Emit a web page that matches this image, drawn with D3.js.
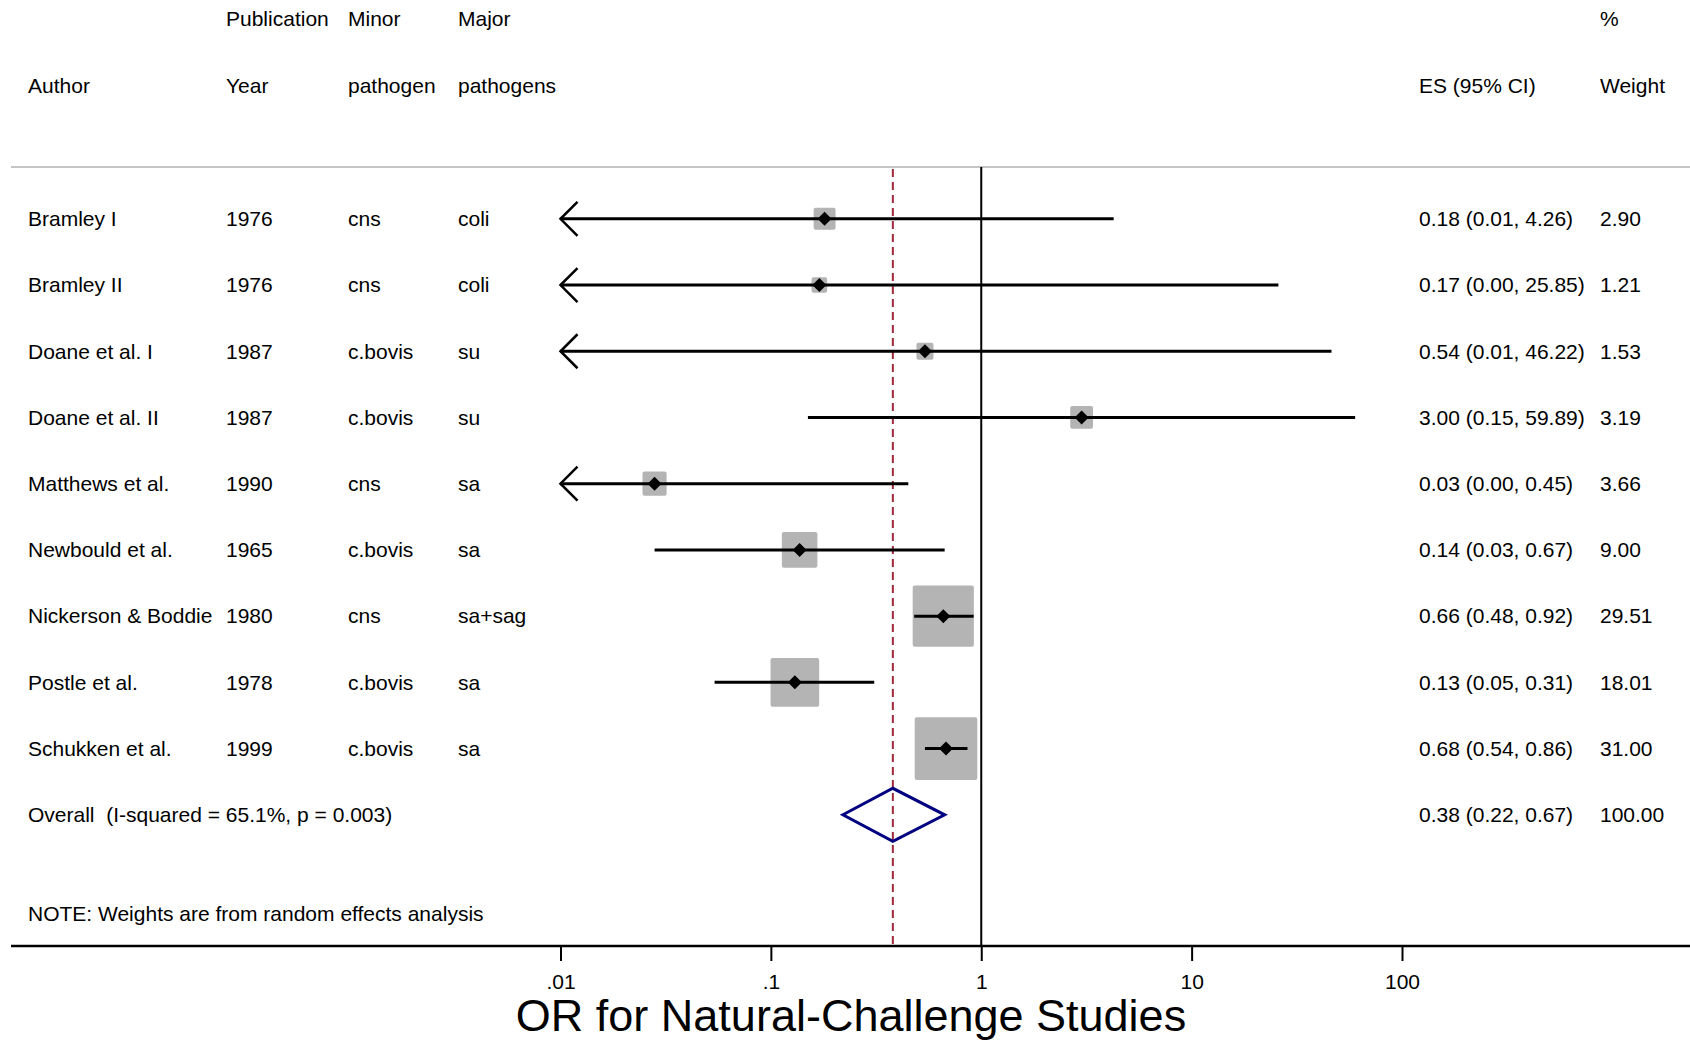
<!DOCTYPE html>
<html>
<head>
<meta charset="utf-8">
<script src="https://cdn.jsdelivr.net/npm/d3@7"></script>
<style>
  body { margin: 0; background: #fff; }
  text { font-family: "Liberation Sans", Arial, sans-serif; font-size: 21px; fill: #000; white-space: pre; }
</style>
</head>
<body>
<div id="chart"></div>
<script>
// study table
const AUTHORS = ["Bramley I", "Bramley II", "Doane et al. I", "Doane et al. II", "Matthews et al.",
  "Newbould et al.", "Nickerson & Boddie", "Postle et al.", "Schukken et al."];
const YEARS = ["1976", "1976", "1987", "1987", "1990", "1965", "1980", "1978", "1999"];
const MINOR = ["cns", "cns", "c.bovis", "c.bovis", "cns", "c.bovis", "cns", "c.bovis", "c.bovis"];
const MAJOR = ["coli", "coli", "su", "su", "sa", "sa", "sa+sag", "sa", "sa"];
const ES = [0.18, 0.17, 0.54, 3.00, 0.028, 0.137, 0.66, 0.13, 0.68];
const LO = [0.01, 0.00, 0.01, 0.15, 0.00, 0.028, 0.48, 0.054, 0.54];
const HI = [4.26, 25.85, 46.22, 59.89, 0.45, 0.67, 0.92, 0.31, 0.86];
const ES_LABELS = ["0.18 (0.01, 4.26)", "0.17 (0.00, 25.85)", "0.54 (0.01, 46.22)", "3.00 (0.15, 59.89)",
  "0.03 (0.00, 0.45)", "0.14 (0.03, 0.67)", "0.66 (0.48, 0.92)", "0.13 (0.05, 0.31)", "0.68 (0.54, 0.86)"];
const WEIGHTS = [2.90, 1.21, 1.53, 3.19, 3.66, 9.00, 29.51, 18.01, 31.00];

const OVERALL = { es: 0.38, lo: 0.22, hi: 0.67, label: "0.38 (0.22, 0.67)", weight: "100.00",
  text: "Overall  (I-squared = 65.1%, p = 0.003)" };
const NOTE = "NOTE: Weights are from random effects analysis";
const TICKS = [0.01, 0.1, 1, 10, 100];
const TICK_LABELS = [".01", ".1", "1", "10", "100"];
const X_TITLE = "OR for Natural-Challenge Studies";

const W = 1690, H = 1042;
const COL = { author: 28, year: 226, minor: 348, major: 458, es: 1419, weight: 1600 };
const TOP_LINE = 167, AXIS_Y = 946;

const SVG = d3.select("#chart").append("svg")
  .attr("width", W)
  .attr("height", H);

const X_SCALE = d3.scaleLog().domain([0.01, 100]).range([560.5, 1402]);
const Y_SCALE = d3.scaleLinear().domain([0, 9]).range([218.8, 814.8]);
const SIZE = d3.scaleSqrt().domain([0, 31]).range([0, 58.6]);

// headers
const HEAD = [
  [COL.year, 19, "Publication"], [COL.minor, 19, "Minor"], [COL.major, 19, "Major"], [COL.weight, 19, "%"],
  [COL.author, 86, "Author"], [COL.year, 86, "Year"], [COL.minor, 86, "pathogen"],
  [COL.major, 86, "pathogens"], [COL.es, 86, "ES (95% CI)"], [COL.weight, 86, "Weight"]
];
SVG.selectAll("text.head").data(HEAD).enter().append("text")
  .attr("class", "head")
  .attr("x", (d) => d[0])
  .attr("y", (d) => d[1])
  .attr("dy", "0.35em")
  .text((d) => d[2]);

SVG.append("line")
  .attr("x1", 11).attr("x2", W)
  .attr("y1", TOP_LINE).attr("y2", TOP_LINE)
  .attr("stroke", "#c4c4c4").attr("stroke-width", 2);

// reference lines
SVG.append("line")
  .attr("x1", X_SCALE(1)).attr("x2", X_SCALE(1))
  .attr("y1", TOP_LINE).attr("y2", AXIS_Y)
  .attr("stroke", "#000").attr("stroke-width", 2);

SVG.append("line")
  .attr("x1", X_SCALE(OVERALL.es)).attr("x2", X_SCALE(OVERALL.es))
  .attr("y1", TOP_LINE + 2).attr("y2", AXIS_Y)
  .attr("stroke", "#a02a3a").attr("stroke-width", 2)
  .attr("stroke-dasharray", "8,5");

// axis
const X_AXIS = d3.axisBottom(X_SCALE)
  .tickValues(TICKS)
  .tickFormat((d, i) => TICK_LABELS[i])
  .tickSize(15)
  .tickPadding(13);

const AXIS_G = SVG.append("g")
  .attr("transform", "translate(0, " + AXIS_Y + ")")
  .call(X_AXIS);
AXIS_G.select(".domain").remove();
AXIS_G.selectAll(".tick line").attr("stroke-width", 2);
AXIS_G.selectAll(".tick text")
  .style("font-family", "'Liberation Sans', Arial, sans-serif")
  .style("font-size", "21px");

SVG.append("line")
  .attr("x1", 11).attr("x2", W)
  .attr("y1", AXIS_Y).attr("y2", AXIS_Y)
  .attr("stroke", "#000").attr("stroke-width", 2.5);

SVG.append("text")
  .attr("x", 851)
  .attr("y", 1015)
  .attr("dy", "0.35em")
  .attr("text-anchor", "middle")
  .style("font-size", "45px")
  .text(X_TITLE);

// rows
const ROWS = AUTHORS.map((a, i) => ({
  author: a, year: YEARS[i], minor: MINOR[i], major: MAJOR[i],
  es: ES[i], lo: LO[i], hi: HI[i], label: ES_LABELS[i], weight: WEIGHTS[i], i: i
}));

const ROW = SVG.selectAll("g.row").data(ROWS).enter().append("g")
  .attr("class", "row")
  .attr("transform", (d) => "translate(0, " + Y_SCALE(d.i) + ")");

[["author", COL.author], ["year", COL.year], ["minor", COL.minor], ["major", COL.major], ["label", COL.es]]
  .forEach(([k, x]) => {
    ROW.append("text").attr("x", x).attr("dy", "0.35em").text((d) => d[k]);
  });
ROW.append("text").attr("x", COL.weight).attr("dy", "0.35em").text((d) => d.weight.toFixed(2));

ROW.append("rect")
  .attr("x", (d) => X_SCALE(d.es) - SIZE(d.weight) / 2)
  .attr("y", (d) => -SIZE(d.weight) / 2)
  .attr("width", (d) => SIZE(d.weight))
  .attr("height", (d) => SIZE(d.weight))
  .attr("fill", "#b4b4b4")
  .attr("stroke", "#b4b4b4")
  .attr("stroke-width", 4)
  .attr("stroke-linejoin", "round");

const XMIN = X_SCALE.domain()[0];
ROW.append("line")
  .attr("x1", (d) => X_SCALE(Math.max(d.lo, XMIN)))
  .attr("x2", (d) => X_SCALE(d.hi))
  .attr("stroke", "#000").attr("stroke-width", 3);

ROW.filter((d) => d.lo <= XMIN).append("path")
  .attr("d", (d) => {
    const x0 = X_SCALE(XMIN);
    return "M" + (x0 + 17) + ",-17L" + x0 + ",0L" + (x0 + 17) + ",17";
  })
  .attr("fill", "none").attr("stroke", "#000").attr("stroke-width", 2.5);

ROW.append("path")
  .attr("d", (d) => {
    const x = X_SCALE(d.es);
    return "M" + (x - 7) + ",0L" + x + ",-7L" + (x + 7) + ",0L" + x + ",7Z";
  })
  .attr("fill", "#000");

// overall
const OY = Y_SCALE(9);
SVG.append("text").attr("x", COL.author).attr("y", OY).attr("dy", "0.35em").text(OVERALL.text);
SVG.append("text").attr("x", COL.es).attr("y", OY).attr("dy", "0.35em").text(OVERALL.label);
SVG.append("text").attr("x", COL.weight).attr("y", OY).attr("dy", "0.35em").text(OVERALL.weight);

SVG.append("path")
  .attr("d", "M" + X_SCALE(OVERALL.lo) + "," + OY +
    "L" + X_SCALE(OVERALL.es) + "," + (OY - 26.5) +
    "L" + X_SCALE(OVERALL.hi) + "," + OY +
    "L" + X_SCALE(OVERALL.es) + "," + (OY + 26.5) + "Z")
  .attr("fill", "none").attr("stroke", "#000080").attr("stroke-width", 3);

SVG.append("text").attr("x", COL.author).attr("y", 914).attr("dy", "0.35em").text(NOTE);
</script>
</body>
</html>
